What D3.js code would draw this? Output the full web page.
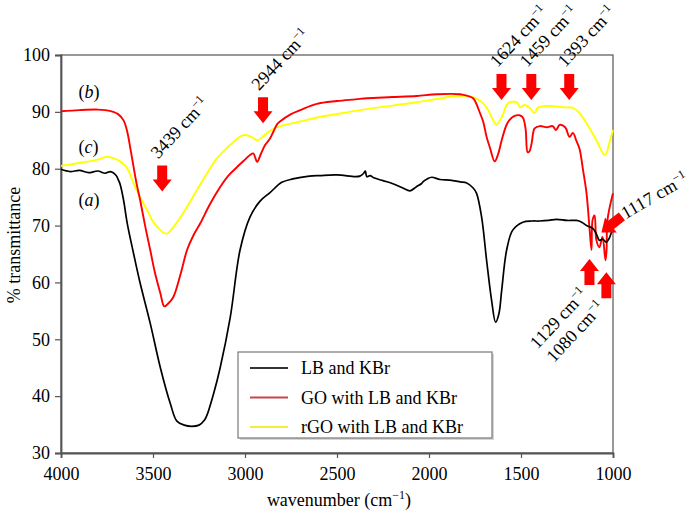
<!DOCTYPE html>
<html>
<head>
<meta charset="utf-8">
<script src="https://cdn.jsdelivr.net/npm/d3@7"></script>
<style>
  body { margin: 0; background: #fff; }
</style>
</head>
<body>
<svg id="chart" width="700" height="513"></svg>
<script>
// ---- data (wavenumber cm^-1, % transmittance) ----
const seriesNames = ["LB and KBr", "GO with LB and KBr", "rGO with LB and KBr"];
const seriesLetters = ["a", "b", "c"];

const wnA = [4000,3950,3900,3850,3800,3760,3730,3700,3688,3678,3660,3640,3605,3570,3515,3460,3406,3370,3330,3290,3250,3220,3205,3170,3135,3080,3027,2973,2918,2864,2800,2740,2650,2593,2500,2400,2376,2355,2346,2338,2320,2300,2250,2200,2142,2103,2070,2040,2033,2010,1985,1940,1887,1830,1795,1760,1742,1714,1687,1660,1638,1620,1605,1578,1545,1490,1440,1400,1350,1307,1250,1198,1170,1144,1110,1090,1074,1055,1037,1020,1008,1000];
const tA  = [79.9,79.5,79.7,79.3,79.6,79.2,79.5,78.8,78.0,77.2,74.5,70.4,65.0,59.9,52.8,45.0,38.7,35.6,34.9,34.7,34.9,35.8,36.8,40.5,45.0,53.9,65.7,71.5,74.3,75.8,77.6,78.2,78.7,78.8,78.9,78.6,78.7,79.2,79.6,78.6,78.8,78.4,77.9,77.4,76.6,76.1,76.8,77.4,77.7,78.2,78.5,78.1,78.0,77.7,77.5,76.6,75.7,71.5,63.9,56.9,53.0,54.5,58.6,65.7,69.2,70.6,70.8,70.8,70.9,71.1,70.9,70.9,70.6,70.0,69.5,68.5,67.4,67.6,67.1,67.8,68.8,69.2];

const wnB = [4000,3900,3800,3760,3716,3690,3660,3640,3620,3590,3570,3540,3515,3490,3460,3439,3420,3390,3350,3315,3280,3243,3190,3135,3090,3043,3000,2973,2955,2934,2915,2890,2864,2846,2826,2810,2750,2700,2610,2500,2400,2337,2200,2066,1956,1831,1790,1760,1723,1705,1687,1668,1643,1625,1605,1580,1562,1540,1508,1490,1475,1464,1455,1442,1426,1398,1360,1328,1310,1290,1260,1236,1218,1200,1182,1163,1144,1128,1117,1111,1100,1090,1074,1057,1041,1035,1030,1000];
const tB  = [90.1,90.3,90.4,90.3,90.0,89.6,88.5,86.5,83.0,77.5,74.5,69.5,65.7,61.8,58.1,55.8,56.2,57.4,61.5,65.7,68.3,70.4,73.8,76.8,78.8,80.3,81.6,82.4,82.7,81.2,82.5,84.2,85.3,86.5,87.8,88.3,89.6,90.3,91.4,91.9,92.2,92.4,92.6,92.8,93.1,93.1,92.8,92.4,89.8,88.2,85.6,83.6,81.3,82.5,85.0,87.6,88.6,89.2,89.4,89.0,87.0,82.9,83.0,84.5,87.1,87.5,87.3,87.5,86.8,87.7,87.3,85.6,86.3,85.0,83.5,79.8,75.7,69.7,65.7,71.0,71.8,67.4,66.2,68.0,63.9,65.7,71.0,75.7];

const wnC = [4000,3900,3800,3750,3720,3690,3660,3640,3600,3570,3530,3498,3460,3440,3423,3390,3350,3315,3260,3206,3160,3119,3060,3010,2970,2934,2900,2880,2826,2700,2593,2430,2376,2200,2066,1950,1849,1777,1740,1705,1680,1660,1633,1615,1600,1570,1524,1505,1480,1450,1426,1410,1370,1328,1270,1218,1182,1144,1090,1046,1035,1020,1000];
const tC  = [80.5,81.0,81.6,82.1,81.9,81.5,80.8,80.1,77.0,75.0,72.6,70.6,69.2,68.7,68.6,69.7,71.5,73.3,76.3,79.2,81.5,83.0,84.8,85.9,85.7,85.0,85.7,86.3,87.3,88.3,89.1,90.0,90.3,91.1,91.7,92.3,92.8,92.7,92.3,91.5,90.4,89.1,87.7,88.5,89.4,91.5,91.7,90.8,91.2,90.6,89.8,90.7,91.0,91.0,90.8,90.7,89.8,88.0,85.0,82.4,82.8,84.5,86.8];

const seriesColors = ["#000000", "#ff0000", "#ffff00"];
const legendColors = ["#333333", "#c8444e", "#f2ee3a"];

// curve labels (a),(b),(c) positions in data units
const letterWn = [3905, 3905, 3905];
const letterT  = [73.4, 92.4, 82.7];

// peak annotations: arrow tip (wavenumber, transmittance), direction
const annLabels = ["3439", "2944", "1624", "1459", "1393", "1129", "1080", "1117"];
const annWn     = [3450, 2902, 1606, 1444, 1238, 1128, 1036, 1063];
const annT      = [76.0, 88.0, 92.1, 92.1, 92.1, 64.1, 61.8, 68.8];
const annDir    = ["down", "down", "down", "down", "down", "up", "up", "diag"];

const xTicks = [4000, 3500, 3000, 2500, 2000, 1500, 1000];
const yTicks = [30, 40, 50, 60, 70, 80, 90, 100];

// ---- layout ----
const FONT = '"Liberation Serif"';
const svg = d3.select("#chart");
const m = { left: 61, top: 55, right: 87, bottom: 60 };
const W = 700, H = 513;
const x = d3.scaleLinear().domain([4000, 1000]).range([m.left, W - m.right]);
const y = d3.scaleLinear().domain([30, 100]).range([H - m.bottom, m.top]);

// frame (top/right)
svg.append("rect")
  .attr("x", x(4000)).attr("y", y(100))
  .attr("width", x(1000) - x(4000)).attr("height", y(30) - y(100))
  .attr("fill", "none").attr("stroke", "#555").attr("stroke-width", 1.2);

// axes
const xAxis = svg.append("g").attr("transform", `translate(0,${y(30)})`)
  .call(d3.axisBottom(x).tickValues(xTicks).tickSize(5).tickPadding(9).tickFormat(d3.format("d")));
const yAxis = svg.append("g").attr("transform", `translate(${x(4000)},0)`)
  .call(d3.axisLeft(y).tickValues(yTicks).tickSize(6).tickPadding(5));
[xAxis, yAxis].forEach(g => {
  g.attr("font-family", null).attr("font-size", null);
  g.select(".domain").attr("stroke", "#555").attr("stroke-width", 1.8);
  g.selectAll(".tick line").attr("stroke", "#555").attr("stroke-width", 1.2);
  g.selectAll(".tick text").style("font-family", FONT).attr("font-size", 18).attr("fill", "#000");
});
xAxis.selectAll(".tick text").attr("dy", "0.71em");

// axis titles
const xt = svg.append("text").attr("x", 339).attr("y", 506).attr("text-anchor", "middle")
  .style("font-family", FONT).attr("font-size", 18);
xt.append("tspan").text("wavenumber (cm");
xt.append("tspan").attr("font-size", 12).attr("dy", -7).text("\u22121");
xt.append("tspan").attr("dy", 7).text(")");

svg.append("text").attr("transform", "translate(20,245) rotate(-90)")
  .style("font-family", FONT)
  .attr("text-anchor", "middle").attr("font-size", 18).text("% transmittance");

// series
const series = [
  { wn: wnA, t: tA }, { wn: wnB, t: tB }, { wn: wnC, t: tC }
];
const line = d3.line().x(d => x(d[0])).y(d => y(d[1])).curve(d3.curveCatmullRom.alpha(0.5));
[2, 1, 0].forEach(i => {
  const pts = series[i].wn.map((w, k) => [w, series[i].t[k]]);
  svg.append("path").datum(pts).attr("d", line)
    .attr("fill", "none").attr("stroke", seriesColors[i])
    .attr("stroke-width", i === 0 ? 1.7 : 1.9).attr("stroke-linejoin", "round");
});

// curve letters
seriesLetters.forEach((l, i) => {
  const t = svg.append("text").attr("x", x(letterWn[i])).attr("y", y(letterT[i]))
    .style("font-family", FONT).attr("font-size", 18);
  t.append("tspan").text("(");
  t.append("tspan").attr("font-style", "italic").text(l);
  t.append("tspan").text(")");
});

// arrows
function arrowPath(len, shaftW, headW, headL) {
  const s = shaftW / 2, h = headW / 2;
  return `M0,0 L${-headL},${-h} L${-headL},${-s} L${-len},${-s} L${-len},${s} L${-headL},${s} L${-headL},${h} Z`;
}
const annG = svg.append("g");
annLabels.forEach((lab, i) => {
  const tx = x(annWn[i]), ty = y(annT[i]);
  let rot = annDir[i] === "down" ? 90 : annDir[i] === "up" ? -90 : 142;
  annG.append("path").attr("d", arrowPath(26, 10, 19, 12))
    .attr("transform", `translate(${tx},${ty}) rotate(${rot})`)
    .attr("fill", "#ff0000");
  let txt;
  if (annDir[i] === "down") {
    txt = annG.append("text").attr("transform", `translate(${tx - 4},${ty - 32}) rotate(-47)`);
  } else if (annDir[i] === "up") {
    txt = annG.append("text").attr("text-anchor", "end")
      .attr("transform", `translate(${tx - 1},${ty + 36}) rotate(-47)`);
  } else {
    txt = annG.append("text").attr("transform", `translate(${tx + 24},${ty - 13}) rotate(-30)`);
  }
  txt.style("font-family", FONT).attr("font-size", 18);
  txt.append("tspan").text(lab + " cm");
  txt.append("tspan").attr("font-size", 12).attr("dy", -7).text("\u22121");
});

// legend
const lg = svg.append("g");
lg.append("rect").attr("x", 240).attr("y", 354).attr("width", 254).attr("height", 86)
  .attr("fill", "#bbb").attr("opacity", 0.6);
lg.append("rect").attr("x", 238).attr("y", 352).attr("width", 254).attr("height", 86)
  .attr("fill", "#fff").attr("stroke", "#777").attr("stroke-width", 1.2);
seriesNames.forEach((n, i) => {
  const yy = 368 + i * 29.5;
  lg.append("line").attr("x1", 250).attr("x2", 288).attr("y1", yy).attr("y2", yy)
    .attr("stroke", legendColors[i]).attr("stroke-width", 2.2);
  lg.append("text").attr("x", 301).attr("y", yy + 6).style("font-family", FONT)
    .attr("font-size", 18).text(n);
});
</script>
</body>
</html>
